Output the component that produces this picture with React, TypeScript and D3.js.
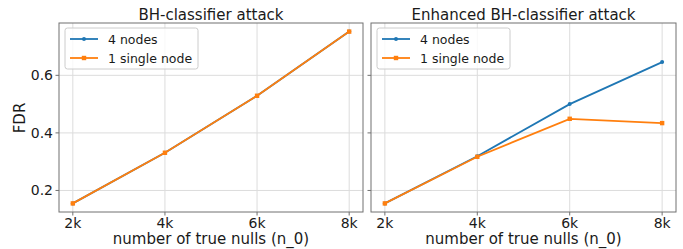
import React from 'react';
import * as d3 from 'd3';

const nulls = [2000, 4000, 6000, 8000];
const xTickLabels = ['2k', '4k', '6k', '8k'];
const yTicks = [0.2, 0.4, 0.6];

// BH-classifier attack
const basicFourNodes = [0.155, 0.331, 0.529, 0.752];
const basicSingleNode = [0.155, 0.331, 0.529, 0.752];
// Enhanced BH-classifier attack
const enhancedFourNodes = [0.155, 0.319, 0.5, 0.646];
const enhancedSingleNode = [0.155, 0.317, 0.449, 0.434];

const seriesNames = ['4 nodes', '1 single node'];
const colors = ['#1f77b4', '#ff7f0e'];

const panels = [
  { title: 'BH-classifier attack', left: 59, right: 363, series: [basicFourNodes, basicSingleNode], showY: true },
  { title: 'Enhanced BH-classifier attack', left: 371, right: 676, series: [enhancedFourNodes, enhancedSingleNode], showY: false },
];

const top = 23;
const bottom = 212;
const font = 'DejaVu Sans, sans-serif';

// y shared across both panels, matplotlib-style 5% padding
const allVals = [...basicFourNodes, ...basicSingleNode, ...enhancedFourNodes, ...enhancedSingleNode];
const [yMin, yMax] = d3.extent(allVals) as [number, number];
const yPad = (yMax - yMin) * 0.05;
const y = d3.scaleLinear().domain([yMin - yPad, yMax + yPad]).range([bottom, top]);

const Panel = ({ p }) => {
  const xPad = (nulls[3] - nulls[0]) * 0.05;
  const x = d3.scaleLinear().domain([nulls[0] - xPad, nulls[3] + xPad]).range([p.left, p.right]);
  const line = d3.line<number>().x((d, i) => x(nulls[i])).y(d => y(d));
  const lx = p.left + 6;
  return (
    <g>
      {/* grid */}
      {nulls.map(n => (
        <line key={'gx' + n} x1={x(n)} x2={x(n)} y1={top} y2={bottom} stroke="#dcdcdc" strokeWidth={1} />
      ))}
      {yTicks.map(t => (
        <line key={'gy' + t} x1={p.left} x2={p.right} y1={y(t)} y2={y(t)} stroke="#dcdcdc" strokeWidth={1} />
      ))}
      {/* series */}
      {p.series.map((s, si) => (
        <g key={si}>
          <path d={line(s) || ''} fill="none" stroke={colors[si]} strokeWidth={1.8} />
          {s.map((v, i) =>
            si === 0 ? (
              <circle key={i} cx={x(nulls[i])} cy={y(v)} r={2} fill={colors[si]} />
            ) : (
              <rect key={i} x={x(nulls[i]) - 2.2} y={y(v) - 2.2} width={4.4} height={4.4} fill={colors[si]} />
            )
          )}
        </g>
      ))}
      {/* frame */}
      <rect x={p.left} y={top} width={p.right - p.left} height={bottom - top} fill="none" stroke="#707070" strokeWidth={1} />
      {/* x ticks */}
      {nulls.map((n, i) => (
        <g key={'xt' + n}>
          <line x1={x(n)} x2={x(n)} y1={bottom} y2={bottom + 3.5} stroke="#707070" />
          <text x={x(n)} y={bottom + 16} textAnchor="middle" fontSize={14} fontFamily={font} fill="#1a1a1a">{xTickLabels[i]}</text>
        </g>
      ))}
      {/* y ticks */}
      {yTicks.map(t => (
        <g key={'yt' + t}>
          <line x1={p.left - 3.5} x2={p.left} y1={y(t)} y2={y(t)} stroke="#707070" />
          {p.showY && (
            <text x={p.left - 6} y={y(t) + 5} textAnchor="end" fontSize={14} fontFamily={font} fill="#1a1a1a">{t.toFixed(1)}</text>
          )}
        </g>
      ))}
      <text x={(p.left + p.right) / 2} y={20} textAnchor="middle" fontSize={15} fontFamily={font} fill="#1a1a1a">{p.title}</text>
      <text x={(p.left + p.right) / 2} y={244} textAnchor="middle" fontSize={15} fontFamily={font} fill="#1a1a1a">number of true nulls (n_0)</text>
      {/* legend */}
      <rect x={lx} y={28} width={133} height={41} rx={2.5} fill="white" fillOpacity={0.8} stroke="#cccccc" />
      {seriesNames.map((name, si) => {
        const ly = 39 + si * 19;
        return (
          <g key={name}>
            <line x1={lx + 5} x2={lx + 33} y1={ly} y2={ly} stroke={colors[si]} strokeWidth={1.8} />
            {si === 0 ? (
              <circle cx={lx + 19} cy={ly} r={2} fill={colors[si]} />
            ) : (
              <rect x={lx + 16.8} y={ly - 2.2} width={4.4} height={4.4} fill={colors[si]} />
            )}
            <text x={lx + 43} y={ly + 4.5} fontSize={12.5} fontFamily={font} fill="#1a1a1a">{name}</text>
          </g>
        );
      })}
    </g>
  );
};

export default function App() {
  return (
    <svg width={683} height={249} style={{ position: 'absolute', left: 0, top: 0, background: 'white' }}>
      {panels.map(p => (
        <Panel key={p.title} p={p} />
      ))}
      <text transform="translate(25,118) rotate(-90)" textAnchor="middle" fontSize={15} fontFamily={font} fill="#1a1a1a">FDR</text>
    </svg>
  );
}
